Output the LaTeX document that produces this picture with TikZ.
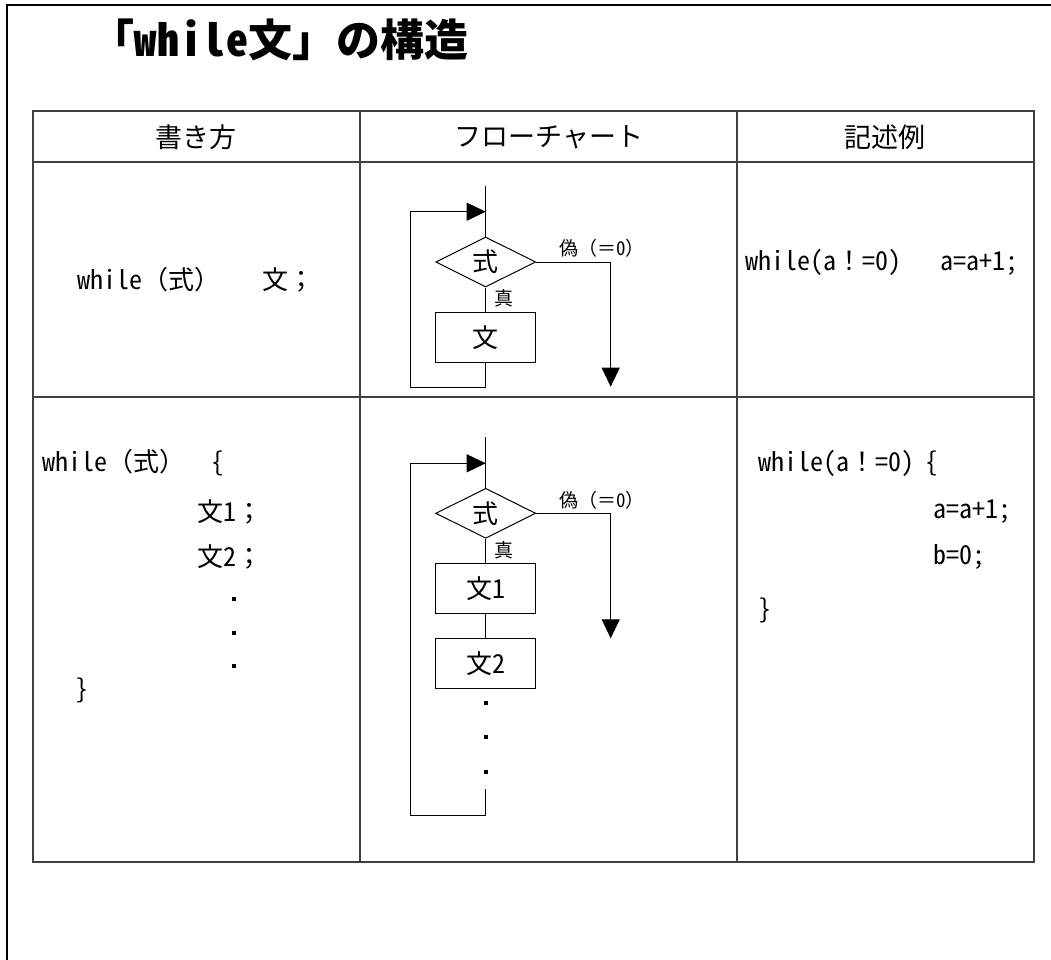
\documentclass[tikz,border=0pt]{standalone}
\usepackage{fontspec}
\setmainfont{Noto Sans CJK JP}
\newfontfamily\hwf[RawFeature=+hwid]{Noto Sans CJK JP}
\newcommand\fw[1]{{\rmfamily #1}}
\usetikzlibrary{shapes.geometric,arrows.meta}
\tikzset{
  frame/.style={line width=2pt,black},
  grid/.style={line width=1.3pt,black!75},
  flow/.style={line width=1pt,black},
  arr/.style={flow,-{Triangle[length=19pt,width=18pt]}},
  cond/.style={diamond,draw,flow,minimum width=100pt,minimum height=50pt,inner sep=0pt,aspect=2,font=\hwf\fontsize{26}{30}\selectfont},
  proc/.style={rectangle,draw,flow,minimum width=100pt,minimum height=50pt,inner sep=0pt,font=\hwf\fontsize{26}{30}\selectfont},
  lbl/.style={inner sep=0pt,font=\hwf\fontsize{19}{22}\selectfont},
  code/.style={inner sep=0pt,anchor=west,font=\hwf\fontsize{26}{30}\selectfont},
  head/.style={inner sep=0pt,font=\fontsize{27}{32}\selectfont},
  dotsq/.style={fill=black,minimum size=4pt,inner sep=0pt}
}
\begin{document}
\begin{tikzpicture}[x=1pt,y=-1pt]
\useasboundingbox (0,0) rectangle (1051,960);
% outer frame
\draw[frame] (7,960) -- (7,5) -- (1051,5);
% title
\node[inner sep=0pt,anchor=west,font=\hwf\bfseries\fontsize{44}{50}\selectfont] (title) at (90,40) {\fw{「}w\hspace{1pt}h\hspace{1pt}i\hspace{1pt}l\hspace{1pt}e\fw{文」の構造}};
% table
\draw[grid] (33,111) rectangle (1034,862);
\draw[grid] (33,162) -- (1034,162);
\draw[grid] (33,397) -- (1034,397);
\draw[grid] (360,111) -- (360,862);
\draw[grid] (737,111) -- (737,862);
% headers
\node[head] (h1) at (196,137) {書き方};
\node[head] (h2) at (549,137) {フローチャート};
\node[head] (h3) at (885,137) {記述例};
% row 1 texts
\node[code] (r1a) at (77,280) {while\fw{（式）}\hspace{42pt}\fw{文；}};
\node[code] (r1c) at (745,262) {while(a\fw{！}=0)\hspace{39pt}a=a+1;};
% flowchart 1
\coordinate (t1) at (485.7,186);
\node[cond] (d1) at (485.7,262) {\fw{式}};
\node[proc] (b1) at (485.7,337.3) {\fw{文}};
\coordinate (e1) at (610.7,386.7);
\coordinate (l1b) at (485.7,387.3);
\coordinate (l1c) at (410.7,387.3);
\coordinate (l1d) at (410.7,211.7);
\coordinate (l1e) at (485.7,211.7);
\draw[flow] (t1) -- (d1.north);
\draw[flow] (d1.south) -- (b1.north);
\draw[arr] (b1.south) -- (l1b) -- (l1c) -- (l1d) -- (l1e);
\draw[arr] (d1.east) -| (e1);
\node[lbl,anchor=west] (f1) at (559,248) {\fw{偽（＝}0\fw{）}};
\node[lbl] (tr1) at (504,298) {\fw{真}};
% row 2 texts
\node[code] (r2a) at (42,463) {while\fw{（式）}\hspace{26pt}\{};
\node[code] (r2b) at (197,512) {\fw{文}1\fw{；}};
\node[code] (r2c) at (197,557) {\fw{文}2\fw{；}};
\node[dotsq] (ld1) at (234,599) {};
\node[dotsq] (ld2) at (234,633) {};
\node[dotsq] (ld3) at (234,666) {};
\node[code] (r2d) at (75,690) {\}};
\node[code] (r2e) at (758,463) {while(a\fw{！}=0)\hspace{11pt}\{};
\node[code] (r2f) at (933,512) {a=a+1;};
\node[code] (r2g) at (933,557) {b=0;};
\node[code] (r2h) at (758,610) {\}};
% flowchart 2
\coordinate (t2) at (485.7,437.3);
\node[cond] (d2) at (485.7,513.3) {\fw{式}};
\node[proc] (b2) at (485.7,588.3) {\fw{文}1};
\node[proc] (b3) at (485.7,663.6) {\fw{文}2};
\node[dotsq] (fd1) at (485.7,703.3) {};
\node[dotsq] (fd2) at (485.7,737.3) {};
\node[dotsq] (fd3) at (485.7,771.7) {};
\coordinate (l2a) at (485.7,789.3);
\coordinate (l2b) at (485.7,815);
\coordinate (l2c) at (410.7,815);
\coordinate (l2d) at (410.7,463.3);
\coordinate (l2e) at (485.7,463.3);
\coordinate (e2) at (610.7,638.3);
\draw[flow] (t2) -- (d2.north);
\draw[flow] (d2.south) -- (b2.north);
\draw[flow] (b2.south) -- (b3.north);
\draw[arr] (l2a) -- (l2b) -- (l2c) -- (l2d) -- (l2e);
\draw[arr] (d2.east) -| (e2);
\node[lbl,anchor=west] (f2) at (559,500) {\fw{偽（＝}0\fw{）}};
\node[lbl] (tr2) at (504,550) {\fw{真}};
\end{tikzpicture}
\end{document}
